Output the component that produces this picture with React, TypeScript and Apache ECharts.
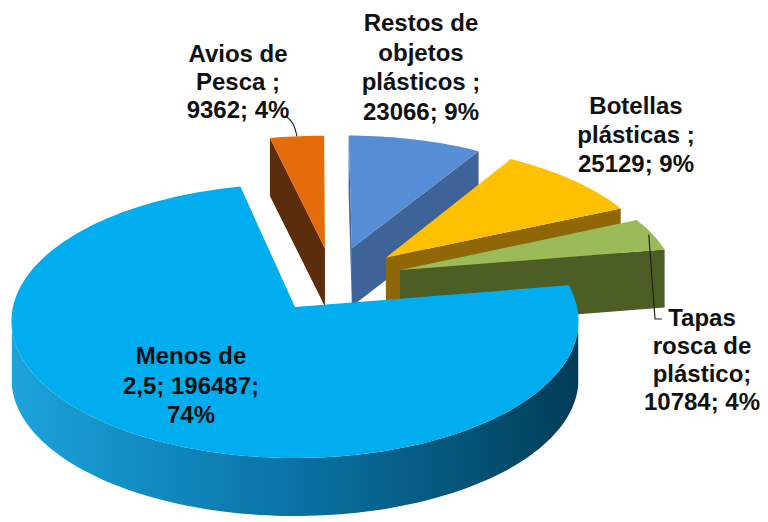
import React, { useEffect, useRef } from "react";
import * as echarts from "echarts";

// ---------- data ----------
const categories = [
  "Menos de 2,5",
  "Avios de Pesca ",
  "Restos de objetos plásticos ",
  "Botellas plásticas ",
  "Tapas rosca de plástico",
];
const values = [196487, 9362, 23066, 25129, 10784];
// words per label line (label wrapping)
const labelWordsPerLine = [
  [2, 2, 1],
  [2, 2, 2],
  [2, 1, 2, 2],
  [1, 2, 2],
  [1, 2, 1, 2],
];

// ---------- style / layout ----------
const topColors = ["#00ADEF", "#E46C0A", "#558ED5", "#FFC000", "#9BBB59"];
const sideColors = ["#0A74A6", "#5C2D0C", "#3E6399", "#8F6706", "#4C5E25"];
const explodeDist = [0, 0.465, 0.5, 0.505, 0.475];
const labelCenters = [
  [191, 385],
  [238, 81],
  [421, 67],
  [636, 134],
  [702, 359],
];
const labelLineHeights = [29.5, 28, 29.5, 29, 28];
// leader lines: fixed layout points; the slice rim point is added as anchor
const leaders: (null | { pts: number[][]; anchorFirst: boolean })[] = [
  null,
  { pts: [[286, 116], [293, 124]], anchorFirst: false },
  null,
  null,
  { pts: [[655, 319], [662, 319]], anchorFirst: true },
];

const CX = 295, CY = 307, FOCAL = 2417, CAM_DIST = 8.57, SIN_T = 0.4806, COS_T = 0.877;
const THICK = 58;
const START_ANGLE = 9.4;
const PULL_C = 56, PULL_K = 0.505;
const DEG = Math.PI / 180;

const total = values.reduce((a, b) => a + b, 0);

function project(X: number, Y: number): number[] {
  const d = CAM_DIST + Y * COS_T;
  return [CX + (FOCAL * X) / d, CY - (FOCAL * Y * SIN_T) / d];
}
const down = (p: number[]) => [p[0], p[1] + THICK];
const facing = (px: number, py: number, nx: number, ny: number) =>
  px * nx + (py + CAM_DIST * COS_T) * ny < 0;

function sliceInfo(i: number) {
  let cum = 0;
  for (let k = 0; k < i; k++) cum += values[k];
  const a1 = START_ANGLE - (cum / total) * 360;
  const a0 = START_ANGLE - ((cum + values[i]) / total) * 360;
  const mid = ((((a0 + a1) / 2) % 360) + 360) % 360;
  const dir = (PULL_C + PULL_K * (mid - PULL_C)) * DEG;
  const ex = explodeDist[i] * Math.cos(dir);
  const ey = explodeDist[i] * Math.sin(dir);
  return { a0, a1, mid, ex, ey };
}

const infos = values.map((_, i) => sliceInfo(i));
const depthKey = infos.map((s) => s.ey + 0.5 * Math.sin(s.mid * DEG));
const order = values.map((_, i) => i).sort((a, b) => depthKey[b] - depthKey[a]);
const rankOf: number[] = [];
order.forEach((idx, r) => (rankOf[idx] = r));

function labelText(i: number) {
  const pct = Math.round((values[i] / total) * 100);
  const full = `${categories[i]}; ${values[i]}; ${pct}%`;
  const words = full.split(" ").filter((w) => w.length);
  const lines: string[] = [];
  let p = 0;
  for (const n of labelWordsPerLine[i]) {
    lines.push(words.slice(p, p + n).join(" "));
    p += n;
  }
  return lines.join("\n");
}

function renderItem(params: any, api: any) {
  const i = params.dataIndex;
  const { a0, a1, ex, ey } = infos[i];
  const r = rankOf[i];
  const children: any[] = [];
  const apex = project(ex, ey);
  const rim = (phi: number, rr = 1) =>
    project(ex + rr * Math.cos(phi * DEG), ey + rr * Math.sin(phi * DEG));
  const steps = Math.max(8, Math.ceil(Math.abs(a1 - a0) / 1.5));
  const arc: number[][] = [];
  const phis: number[] = [];
  for (let k = 0; k <= steps; k++) {
    const phi = a0 + ((a1 - a0) * k) / steps;
    phis.push(phi);
    arc.push(rim(phi));
  }
  const side = sideColors[i];
  // radial wall at a0 (normal toward decreasing angle)
  {
    const c = Math.cos(a0 * DEG), s = Math.sin(a0 * DEG);
    if (facing(ex + 0.5 * c, ey + 0.5 * s, s, -c)) {
      const p = rim(a0);
      children.push({
        type: "polygon",
        z2: r * 10 + 1,
        shape: { points: [apex, p, down(p), down(apex)] },
        style: { fill: side },
      });
    }
  }
  // radial wall at a1 (normal toward increasing angle)
  {
    const c = Math.cos(a1 * DEG), s = Math.sin(a1 * DEG);
    if (facing(ex + 0.5 * c, ey + 0.5 * s, -s, c)) {
      const p = rim(a1);
      children.push({
        type: "polygon",
        z2: r * 10 + 1,
        shape: { points: [apex, p, down(p), down(apex)] },
        style: { fill: side },
      });
    }
  }
  // outer curved wall, visible runs
  let run: number[][] = [];
  const flush = () => {
    if (run.length > 1) {
      const pts = run.concat(run.slice().reverse().map(down));
      children.push({
        type: "polygon",
        z2: r * 10 + 1,
        shape: { points: pts },
        style: {
          fill:
            i === 0
              ? new echarts.graphic.LinearGradient(0, 0, 1, 0, [
                  { offset: 0, color: "#1EA3DB" },
                  { offset: 0.2, color: "#128FC5" },
                  { offset: 0.5, color: "#0A72A4" },
                  { offset: 0.8, color: "#045477" },
                  { offset: 1, color: "#013C58" },
                ])
              : side,
        },
      });
    }
    run = [];
  };
  phis.forEach((phi, k) => {
    const c = Math.cos(phi * DEG), s = Math.sin(phi * DEG);
    if (facing(ex + c, ey + s, c, s)) run.push(arc[k]);
    else flush();
  });
  flush();
  // top face
  children.push({
    type: "polygon",
    z2: r * 10 + 2,
    shape: { points: [apex, ...arc] },
    style: { fill: topColors[i] },
  });
  // label
  const [lx, ly] = labelCenters[i];
  children.push({
    type: "text",
    x: lx,
    y: ly,
    z2: 100,
    style: {
      text: labelText(i),
      fill: "#111111",
      fontFamily: "'Liberation Sans', Arial, sans-serif",
      fontWeight: 700,
      fontSize: 24,
      lineHeight: labelLineHeights[i],
      align: "center",
      verticalAlign: "middle",
    },
  });
  const ld = leaders[i];
  if (ld) {
    const m = infos[i].mid > 180 ? infos[i].mid - 360 : infos[i].mid;
    const anchor = rim(m, ld.anchorFirst ? 0.985 : 1);
    const pts = ld.anchorFirst ? [anchor, ...ld.pts] : [...ld.pts, anchor];
    children.push({
      type: "polyline",
      z2: 99,
      shape: { points: pts, smooth: ld.anchorFirst ? 0 : 0.4 },
      style: { stroke: "#222222", lineWidth: 1.2, fill: "none" },
    });
  }
  return { type: "group", children };
}

export default function App() {
  const ref = useRef<HTMLDivElement>(null);
  useEffect(() => {
    const chart = echarts.init(ref.current!, null, { renderer: "svg" });
    chart.setOption({
      animation: false,
      backgroundColor: "#ffffff",
      series: [
        {
          type: "custom",
          coordinateSystem: "none",
          silent: true,
          renderItem,
          data: values.map((v, i) => ({ name: categories[i], value: v })),
        },
      ],
    });
    return () => chart.dispose();
  }, []);
  return (
    <div
      ref={ref}
      style={{ position: "absolute", left: 0, top: 0, width: 768, height: 522 }}
    />
  );
}
